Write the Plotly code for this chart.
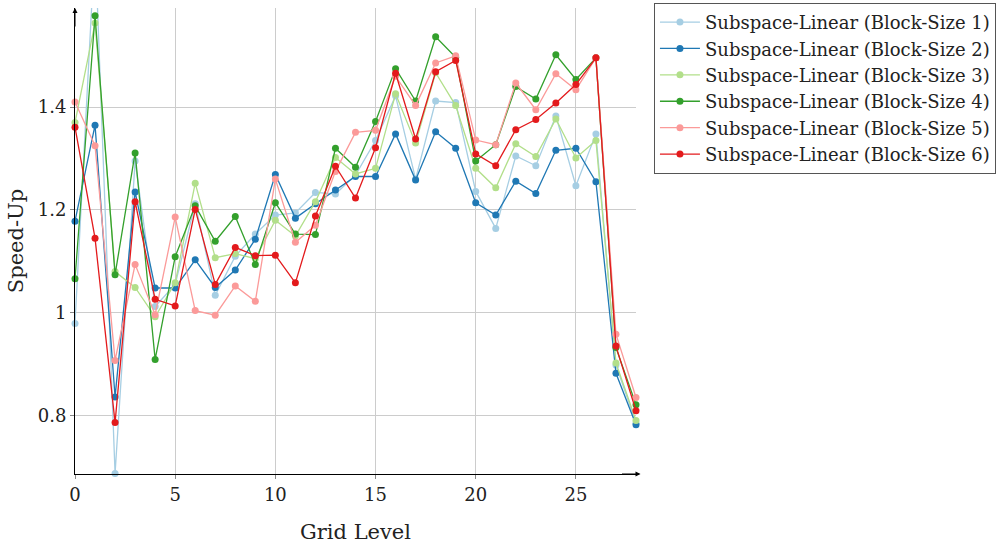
import plotly.graph_objects as go

grid_level = list(range(29))

bs1 = [0.979, 1.72, 0.687, 1.295, 1.012, 1.055, 1.212, 1.034, 1.110, 1.153, 1.190, 1.194, 1.234, 1.231,
       1.268, 1.335, 1.422, 1.260, 1.412, 1.409, 1.236, 1.164, 1.305, 1.286, 1.383, 1.247, 1.348, 0.898, 0.785]
bs2 = [1.178, 1.365, 0.836, 1.235, 1.048, 1.048, 1.103, 1.049, 1.083, 1.143, 1.269, 1.184, 1.212, 1.239,
       1.265, 1.265, 1.348, 1.258, 1.352, 1.320, 1.214, 1.190, 1.256, 1.232, 1.316, 1.320, 1.255, 0.882, 0.782]
bs3 = [1.370, 1.564, 1.080, 1.049, 0.992, 1.058, 1.252, 1.107, 1.115, 1.105, 1.180, 1.149, 1.216, 1.302,
       1.270, 1.281, 1.426, 1.330, 1.467, 1.403, 1.281, 1.243, 1.329, 1.304, 1.377, 1.301, 1.335, 0.902, 0.790]
bs4 = [1.066, 1.578, 1.074, 1.311, 0.909, 1.109, 1.208, 1.139, 1.187, 1.094, 1.214, 1.153, 1.152, 1.320,
       1.283, 1.372, 1.475, 1.412, 1.537, 1.497, 1.295, 1.327, 1.440, 1.416, 1.502, 1.454, 1.496, 0.932, 0.821]
bs5 = [1.410, 1.325, 0.907, 1.094, 0.996, 1.186, 1.004, 0.995, 1.052, 1.022, 1.260, 1.137, 1.170, 1.275,
       1.351, 1.355, 1.460, 1.403, 1.486, 1.500, 1.336, 1.327, 1.447, 1.395, 1.465, 1.434, 1.496, 0.958, 0.835]
bs6 = [1.361, 1.145, 0.786, 1.216, 1.026, 1.013, 1.201, 1.055, 1.127, 1.111, 1.112, 1.058, 1.188, 1.285,
       1.223, 1.321, 1.466, 1.338, 1.469, 1.491, 1.309, 1.286, 1.356, 1.376, 1.408, 1.444, 1.496, 0.935, 0.809]

series = [
    ("Subspace-Linear (Block-Size 1)", bs1, "#a6cee3"),
    ("Subspace-Linear (Block-Size 2)", bs2, "#1f78b4"),
    ("Subspace-Linear (Block-Size 3)", bs3, "#b2df8a"),
    ("Subspace-Linear (Block-Size 4)", bs4, "#33a02c"),
    ("Subspace-Linear (Block-Size 5)", bs5, "#fb9a99"),
    ("Subspace-Linear (Block-Size 6)", bs6, "#e31a1c"),
]

x_ticks = [0, 5, 10, 15, 20, 25]
y_ticks = [0.8, 1.0, 1.2, 1.4]
y_tick_labels = ["0.8", "1", "1.2", "1.4"]

FONT = "DejaVu Serif"

fig = go.Figure()
for name, vals, col in series:
    fig.add_trace(go.Scatter(
        x=grid_level, y=vals, name=name, mode="lines+markers",
        line=dict(color=col, width=1.3),
        marker=dict(color=col, size=7),
        cliponaxis=False,
    ))

fig.update_layout(
    width=1007, height=550,
    margin=dict(l=75, r=371, t=8, b=76, autoexpand=False),
    paper_bgcolor="white", plot_bgcolor="white",
    font=dict(family=FONT, size=18, color="#222"),
    showlegend=True,
    legend=dict(
        x=1.032, y=1.011, xanchor="left", yanchor="top",
        bordercolor="#555", borderwidth=1, bgcolor="white",
        font=dict(family=FONT, size=18, color="#222"),
        itemwidth=40, tracegroupgap=0,
    ),
    xaxis=dict(
        range=[0, 28], tickvals=x_ticks, showgrid=True, gridcolor="#cccccc", gridwidth=1,
        zeroline=False, showline=True, linecolor="black", linewidth=1,
        ticks="outside", ticklen=4, tickcolor="#888",
        title=dict(text="Grid Level", font=dict(family=FONT, size=21), standoff=20),
        tickfont=dict(family=FONT, size=18),
    ),
    yaxis=dict(
        range=[0.686, 1.593], tickvals=y_ticks, ticktext=y_tick_labels,
        showgrid=True, gridcolor="#cccccc", gridwidth=1,
        zeroline=False, showline=True, linecolor="black", linewidth=1,
        ticks="outside", ticklen=4, tickcolor="#888",
        title=dict(text="Speed-Up", font=dict(family=FONT, size=21), standoff=8),
        tickfont=dict(family=FONT, size=18),
    ),
)

# axis arrowheads
fig.add_annotation(x=0, y=1, xref="paper", yref="paper", ax=0, ay=20,
                   showarrow=True, arrowhead=2, arrowsize=1, arrowwidth=1, arrowcolor="black", text="")
fig.add_annotation(x=1.008, y=0, xref="paper", yref="paper", ax=-20, ay=0,
                   showarrow=True, arrowhead=2, arrowsize=1, arrowwidth=1, arrowcolor="black", text="")

fig.write_html("out.html")
